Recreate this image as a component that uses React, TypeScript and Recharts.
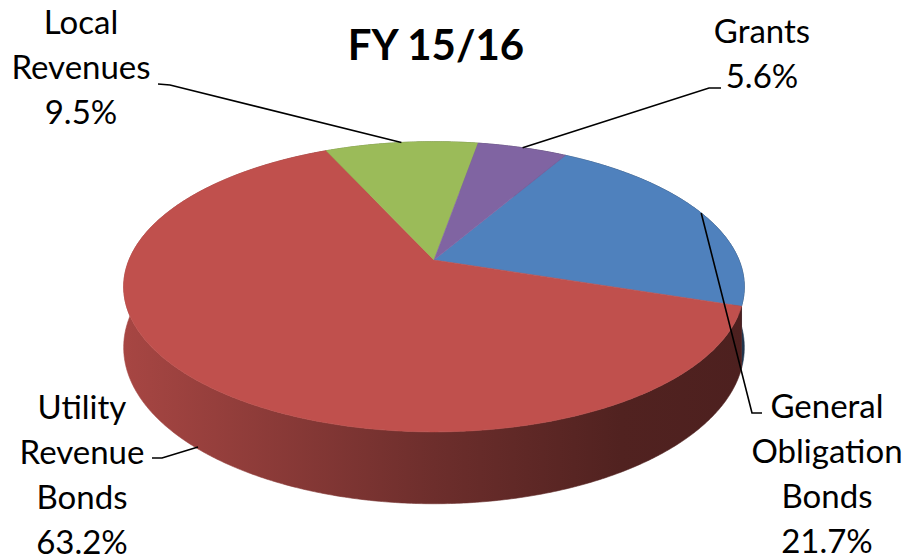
import React from 'react';
import { PieChart, Pie } from 'recharts';

const categories = ['General Obligation Bonds', 'Utility Revenue Bonds', 'Local Revenues', 'Grants'];
const shares = [21.7, 63.2, 9.5, 5.6];
const nameLines = [['General', 'Obligation', 'Bonds'], ['Utility', 'Revenue', 'Bonds'], ['Local', 'Revenues'], ['Grants']];
const colors = ['#4f81bd', '#c0504d', '#9bbb59', '#8064a2'];
const title = 'FY 15/16';

const data = categories.map((name, i) => ({ name, value: shares[i] }));

// label layout (text centre x, first baseline y, elbow points of leader)
const labelLayout = [
  { tx: 827, ty: 418, e1: [752, 413], e2: [762, 413], bottom: false },
  { tx: 82, ty: 419, e1: [162, 458], e2: [152, 458], bottom: true },
  { tx: 81, ty: 34, e1: [170, 85], e2: [158, 84], bottom: false },
  { tx: 762, ty: 43, e1: [709, 88], e2: [721, 88], bottom: false },
];

const K = 0.1845;
const FLAT = 0.4596;
const DEPTH = 58.6;
const FONT = 'Lato, "Open Sans", sans-serif';

function proj(cx: number, cy: number, r: number, deg: number, z = 0): [number, number] {
  const rad = (deg * Math.PI) / 180;
  const u = Math.cos(rad);
  const v = -Math.sin(rad);
  const w = 1 - K * v;
  return [cx + (r * u) / w, cy + (r * FLAT * v) / w + (z * DEPTH) / w];
}

function arc(cx: number, cy: number, r: number, a0: number, a1: number, z = 0) {
  const n = Math.max(2, Math.ceil(Math.abs(a1 - a0) / 0.5) + 1);
  const pts: [number, number][] = [];
  for (let i = 0; i < n; i++) {
    const a = a0 + ((a1 - a0) * i) / (n - 1);
    pts.push(proj(cx, cy, r, a, z));
  }
  return pts;
}

function shade(hex: string, f: number) {
  const n = parseInt(hex.slice(1), 16);
  const r = Math.round(((n >> 16) & 255) * f);
  const g = Math.round(((n >> 8) & 255) * f);
  const b = Math.round((n & 255) * f);
  return `rgb(${r},${g},${b})`;
}

const toD = (pts: [number, number][]) => pts.map((p, i) => `${i ? 'L' : 'M'}${p[0].toFixed(2)},${p[1].toFixed(2)}`).join(' ');

const renderWall = (props: any) => {
  const { cx, cy, outerRadius, startAngle, endAngle, index } = props;
  const top = arc(cx, cy, outerRadius, startAngle, endAngle, 0);
  const bot = arc(cx, cy, outerRadius, endAngle, startAngle, 1);
  const id = `wall-${index}`;
  const c = colors[index];
  const w = outerRadius * 1.02;
  return (
    <g key={id}>
      <defs>
        <linearGradient id={id} gradientUnits="userSpaceOnUse" x1={cx - w} y1={0} x2={cx + w} y2={0}>
          <stop offset="0" stopColor={shade(c, 0.87)} />
          <stop offset="0.5" stopColor={shade(c, 0.57)} />
          <stop offset="0.8" stopColor={shade(c, 0.42)} />
          <stop offset="1" stopColor={shade(c, 0.4)} />
        </linearGradient>
      </defs>
      <path d={toD([...top, ...bot]) + ' Z'} fill={`url(#${id})`} stroke={`url(#${id})`} strokeWidth={0.6} />
    </g>
  );
};

const renderTop = (props: any) => {
  const { cx, cy, outerRadius, startAngle, endAngle, index } = props;
  const pts = arc(cx, cy, outerRadius, startAngle, endAngle, 0);
  const d = `M${cx},${cy} ` + toD(pts).replace(/^M/, 'L') + ' Z';
  return <path key={`top-${index}`} d={d} fill={colors[index]} stroke={colors[index]} strokeWidth={0.6} />;
};

const renderLabel = (props: any) => {
  const { cx, cy, outerRadius, midAngle, index, value } = props;
  const lay = labelLayout[index];
  const p = proj(cx, cy, outerRadius, midAngle, lay.bottom ? 0.97 : 0);
  const lines = [...nameLines[index], `${Number(value).toFixed(1)}%`];
  return (
    <g key={`lab-${index}`}>
      <path
        d={`M${p[0].toFixed(1)},${p[1].toFixed(1)} L${lay.e1[0]},${lay.e1[1]} L${lay.e2[0]},${lay.e2[1]}`}
        fill="none"
        stroke="#000"
        strokeWidth={1.6}
      />
      <text x={lay.tx} y={lay.ty} textAnchor="middle" fontFamily={FONT} fontSize={33} fill="#000">
        {lines.map((l, i) => (
          <tspan key={i} x={lay.tx} dy={i === 0 ? 0 : 45}>
            {l}
          </tspan>
        ))}
      </text>
    </g>
  );
};

export default function App() {
  const common = {
    data,
    dataKey: 'value',
    nameKey: 'name',
    cx: 434,
    cy: 260,
    outerRadius: 305,
    startAngle: 60,
    endAngle: -300,
    fill: 'none',
    stroke: 'none',
    labelLine: false,
    isAnimationActive: false,
  };
  return (
    <div style={{ position: 'absolute', left: 0, top: 0, width: 908, height: 560, background: '#fff' }}>
      <PieChart width={908} height={560} margin={{ top: 0, right: 0, bottom: 0, left: 0 }}>
        <Pie {...common} label={renderWall} />
        <Pie {...common} label={renderTop} />
        <Pie {...common} label={renderLabel} />
      </PieChart>
      <svg width={908} height={80} style={{ position: 'absolute', left: 0, top: 0 }}>
        <text x={436} y={60} textAnchor="middle" fontFamily={FONT} fontWeight="bold" fontSize={42} fill="#000">
          {title}
        </text>
      </svg>
    </div>
  );
}
